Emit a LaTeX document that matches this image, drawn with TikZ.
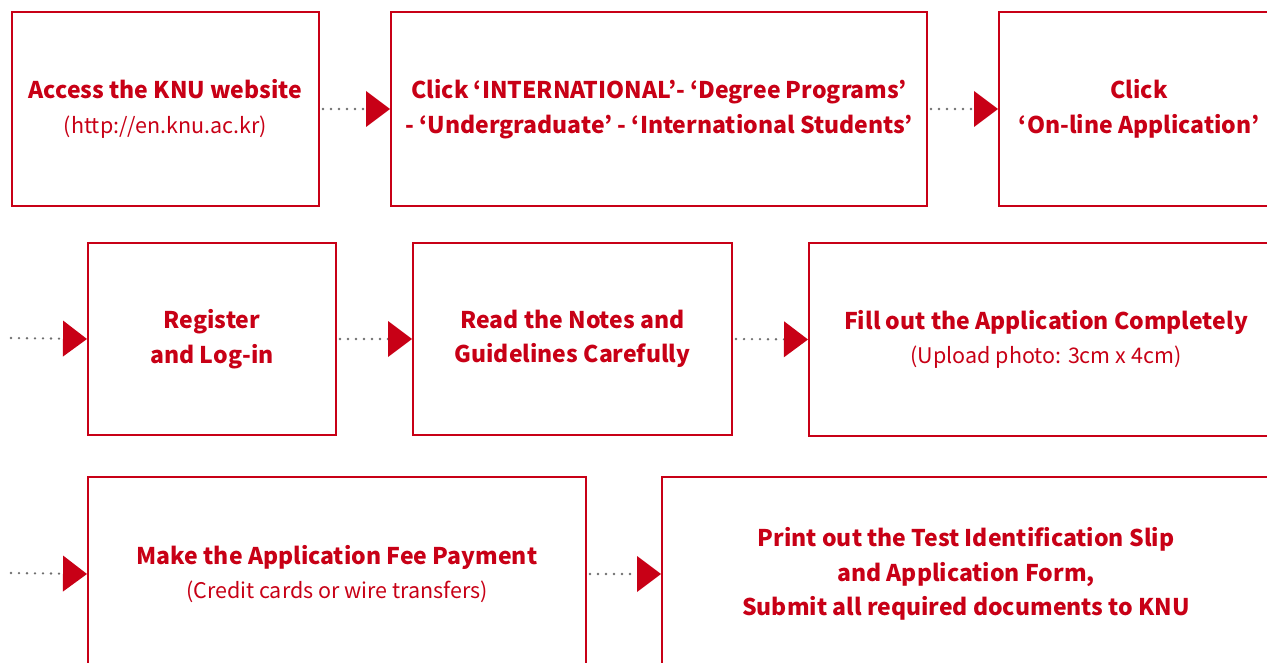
\documentclass[tikz,border=0pt]{standalone}
\usepackage{fontspec}
\newfontfamily\kr{Noto Sans CJK KR}
\usetikzlibrary{arrows.meta}
\definecolor{knured}{RGB}{200,0,22}
\definecolor{dotgray}{RGB}{110,110,110}
\tikzset{
  stepbox/.style={draw=knured,line width=2pt,fill=white,anchor=north west,inner sep=0pt,
    text=knured,align=center,font=\kr\fontsize{21.5}{34.5}\selectfont},
  flow/.style={draw=dotgray,line width=2.6pt,line cap=round,dash pattern=on 0pt off 8pt,
    -{Triangle[length=24pt,width=36pt,color=knured,fill=knured,line width=0pt]}},
}
\newcommand{\hd}[1]{{\fontsize{23}{34.5}\selectfont\bfseries #1}}
\begin{document}
\begin{tikzpicture}[x=1pt,y=-1pt]
\useasboundingbox (0,0) rectangle (1267,663);
\clip (0,0) rectangle (1267,663);
% row 1
\node[stepbox,minimum width=307pt,minimum height=194pt] (b1) at (11,11)
  {\hd{Access the KNU website}\\(http://en.knu.ac.kr)};
\node[stepbox,minimum width=536pt,minimum height=194pt] (b2) at (390,11)
  {\hd{Click ‘INTERNATIONAL’- ‘Degree Programs’}\\\hd{- ‘Undergraduate’ - ‘International Students’}};
\node[stepbox,minimum width=280pt,minimum height=194pt] (b3) at (998,11)
  {\hd{Click}\\\hd{‘On-line Application’}};
% row 2
\node[stepbox,minimum width=248pt,minimum height=192pt] (b4) at (87,242)
  {\hd{Register}\\\hd{and Log-in}};
\node[stepbox,minimum width=319pt,minimum height=192pt] (b5) at (412,242)
  {\hd{Read the Notes and}\\\hd{Guidelines Carefully}};
\node[stepbox,minimum width=474pt,minimum height=193pt] (b6) at (808,242)
  {\hd{Fill out the Application Completely}\\(Upload photo: 3cm x 4cm)};
% row 3
\node[stepbox,minimum width=498pt,minimum height=194pt] (b7) at (87,476)
  {\hd{Make the Application Fee Payment}\\(Credit cards or wire transfers)};
\node[stepbox,minimum width=608pt,minimum height=194pt] (b8) at (661,476)
  {\hd{Print out the Test Identification Slip}\\\hd{and Application Form,}\\\hd{Submit all required documents to KNU}};
% free ends
\coordinate (s2) at (11,338);
\coordinate (s3) at (11,573);
% connectors
\draw[flow] ([xshift=3pt]b1.east) -- (b2.west);
\draw[flow] ([xshift=3pt]b2.east) -- (b3.west);
\draw[flow] (s2) -- (b4.west);
\draw[flow] ([xshift=3pt]b4.east) -- (b5.west);
\draw[flow] ([xshift=3pt]b5.east) -- (b6.west);
\draw[flow] (s3) -- (b7.west);
\draw[flow] ([xshift=3pt]b7.east) -- (b8.west);
\end{tikzpicture}
\end{document}
